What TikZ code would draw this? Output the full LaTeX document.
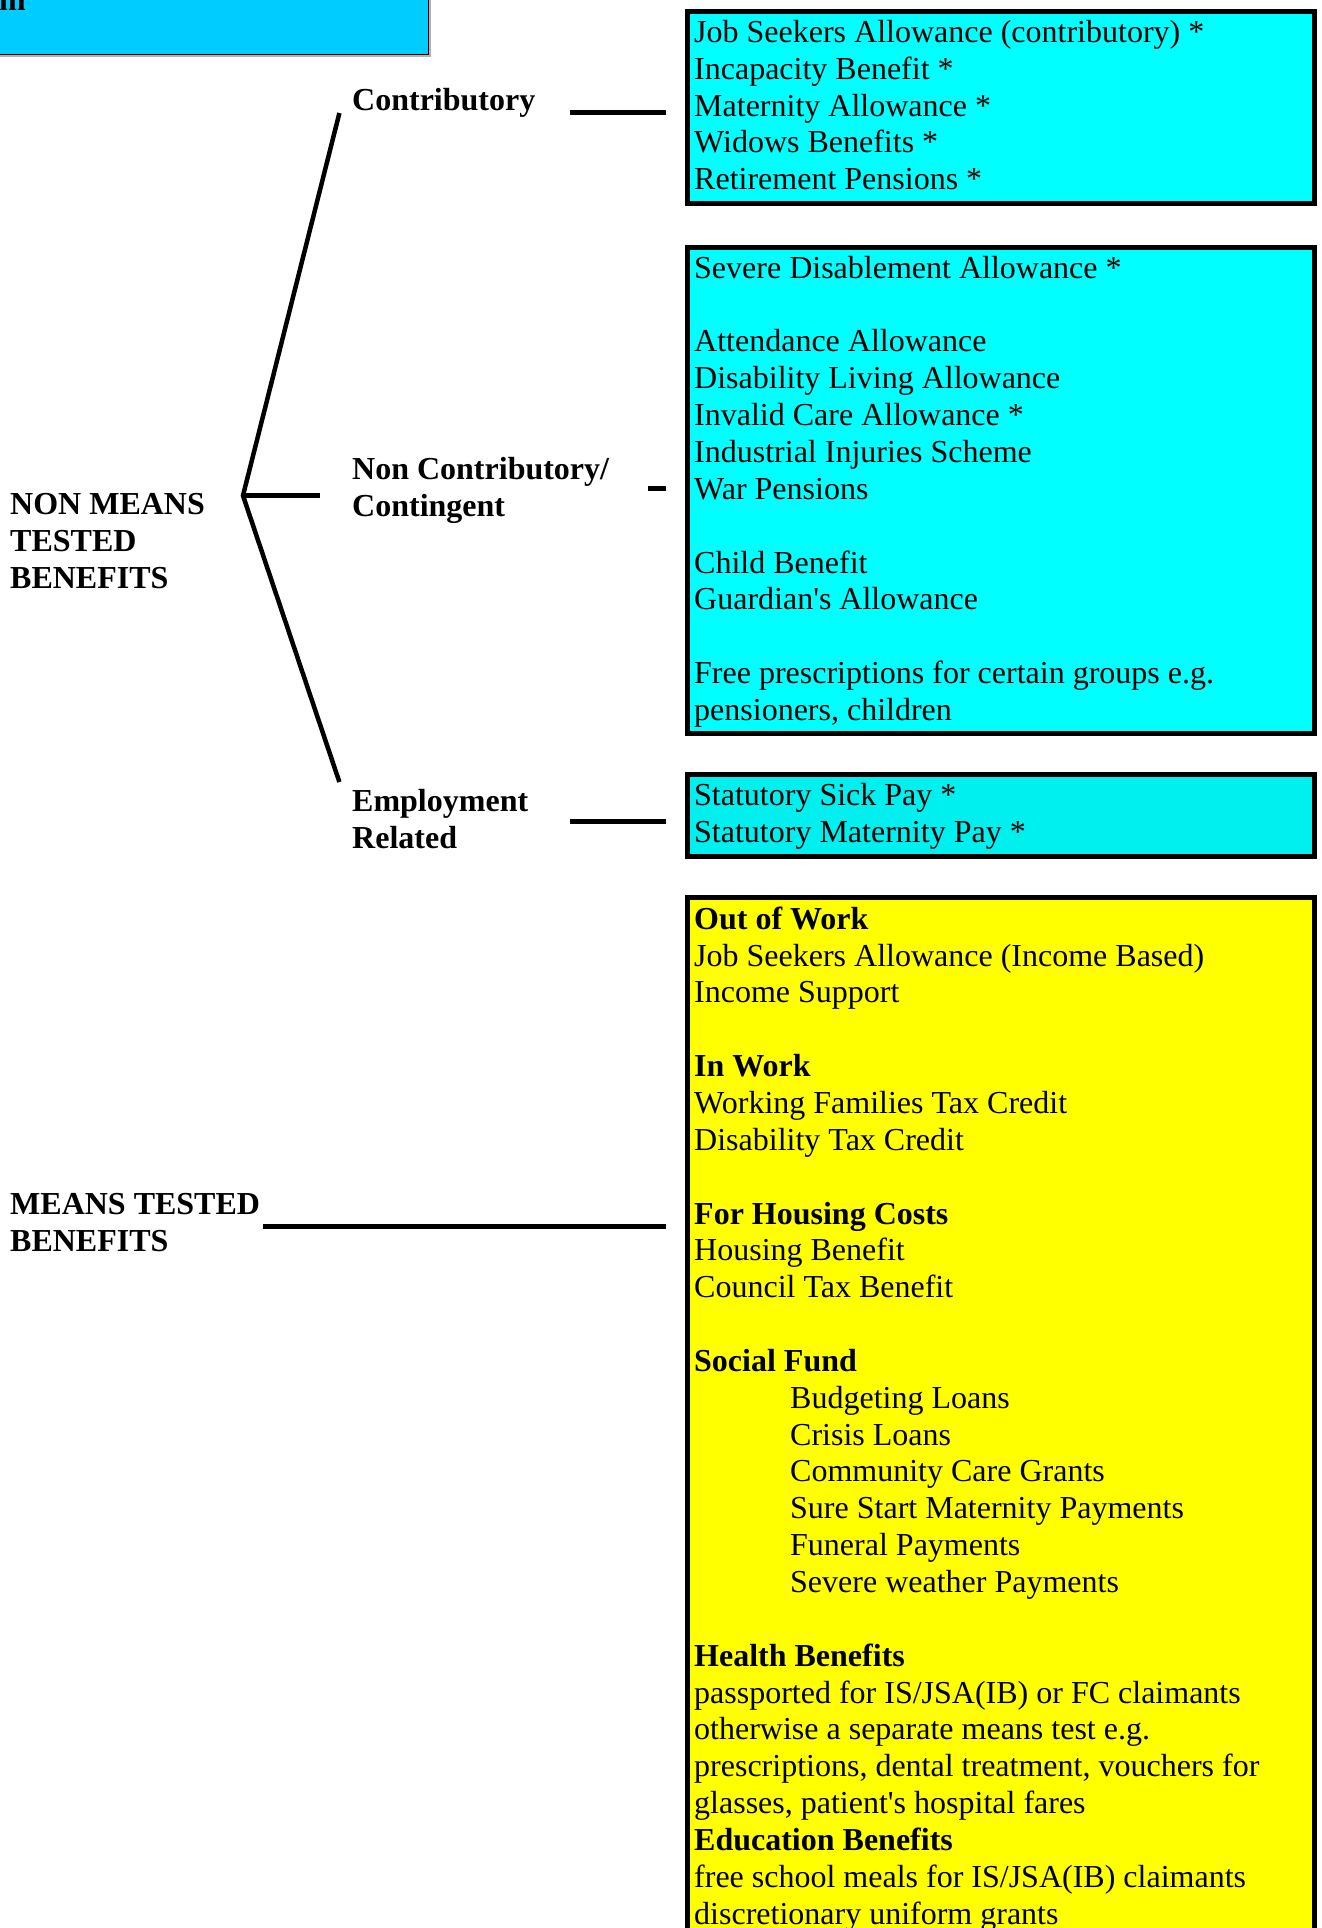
\documentclass[tikz,border=0pt]{standalone}
\usepackage{fontspec}
\setmainfont{Liberation Serif}[Ligatures=TeXOff]
\definecolor{cyanA}{RGB}{0,255,255}
\definecolor{cyanB}{RGB}{0,240,240}
\definecolor{yelA}{RGB}{255,255,0}
\definecolor{topblue}{RGB}{0,204,255}
\begin{document}
\begin{tikzpicture}[x=1pt,y=-1pt,
  txt/.style={font=\fontsize{32}{36.85}\selectfont, align=left, inner sep=0pt, anchor=north west},
  lbl/.style={txt, font=\fontsize{32}{36.85}\selectfont\bfseries},
  benbox/.style={draw=black, line width=5pt, anchor=north west, inner sep=0pt, minimum width=627pt},
  conn/.style={line width=5pt},
  forkline/.style={line width=4.5pt, line join=miter, miter limit=20}]
\useasboundingbox (0,0) rectangle (1322,1928);
\clip (0,0) rectangle (1322,1928);

% title box (cut off)
\fill[gray!60] (-20,-20) rectangle (430.5,56.5);
\node[draw=black, line width=1pt, fill=topblue, anchor=south east, inner sep=0pt,
      minimum width=460pt, minimum height=80pt] (title) at (428.5,54.5) {};
\node[font=\fontsize{32}{36.85}\selectfont\bfseries, inner sep=0pt, anchor=base west] (ttl) at (-1,10) {m};

% benefit boxes
\node[benbox, fill=cyanA, minimum height=192pt] (b1) at (685.3,9.3) {};
\node[benbox, fill=cyanA, minimum height=486pt] (b2) at (685.3,244.5) {};
\node[benbox, fill=cyanB, minimum height=82.5pt] (b3) at (685.3,771.5) {};
\node[benbox, fill=yelA, minimum height=1065pt] (b4) at (685.3,894.5) {};

\node[txt] (t1) at (694,16.4) {\strut Job Seekers Allowance (contributory) *\\
Incapacity Benefit *\\
Maternity Allowance *\\
Widows Benefits *\\
Retirement Pensions *};

\node[txt] (t2) at (694,252.2) {\strut Severe Disablement Allowance *\\
\\
Attendance Allowance\\
Disability Living Allowance\\
Invalid Care Allowance *\\
Industrial Injuries Scheme\\
War Pensions\\
\\
Child Benefit\\
Guardian's Allowance\\
\\
Free prescriptions for certain groups e.g.\\
pensioners, children};

\node[txt] (t3) at (694,779.2) {\strut Statutory Sick Pay *\\
Statutory Maternity Pay *};

\node[txt] (t4) at (694,903.2) {\strut\textbf{Out of Work}\\
Job Seekers Allowance (Income Based)\\
Income Support\\
\\
\textbf{In Work}\\
Working Families Tax Credit\\
Disability Tax Credit\\
\\
\textbf{For Housing Costs}\\
Housing Benefit\\
Council Tax Benefit\\
\\
\textbf{Social Fund}\\
\hspace*{96pt}Budgeting Loans\\
\hspace*{96pt}Crisis Loans\\
\hspace*{96pt}Community Care Grants\\
\hspace*{96pt}Sure Start Maternity Payments\\
\hspace*{96pt}Funeral Payments\\
\hspace*{96pt}Severe weather Payments\\
\\
\textbf{Health Benefits}\\
passported for IS/JSA(IB) or FC claimants\\
otherwise a separate means test e.g.\\
prescriptions, dental treatment, vouchers for\\
glasses, patient's hospital fares\\
\textbf{Education Benefits}\\
free school meals for IS/JSA(IB) claimants\\
discretionary uniform grants};

% labels
\node[lbl] (lcon) at (352,84.7) {\strut Contributory};
\node[lbl] (lnon) at (352,453.2) {\strut Non Contributory/\\Contingent};
\node[lbl] (lemp) at (352,785.2) {\strut Employment\\Related};
\node[lbl] (lnmt) at (10,488.8) {\strut NON MEANS\\TESTED\\BENEFITS};
\node[lbl] (lmt) at (10,1188.8) {\strut MEANS TESTED\\BENEFITS};

% connectors
\coordinate (k1a) at (570,112);
\coordinate (k1b) at (665.5,112);
\coordinate (k2a) at (647.5,488.5);
\coordinate (k2b) at (665.5,488.5);
\coordinate (k3a) at (570,821.5);
\coordinate (k3b) at (665.5,821.5);
\coordinate (k4a) at (263,1226);
\coordinate (k4b) at (665.5,1226);
\draw[conn] (k1a) -- (k1b);
\draw[conn] (k2a) -- (k2b);
\draw[conn] (k3a) -- (k3b);
\draw[conn] (k4a) -- (k4b);

\coordinate (ftop) at (339.4,113);
\coordinate (apex) at (243,495.6);
\coordinate (fmid) at (320,495.6);
\coordinate (fbot) at (339.4,782);
\draw[forkline] (ftop) -- (apex) -- (fbot);
\draw[conn] (apex) -- (fmid);
\end{tikzpicture}
\end{document}
